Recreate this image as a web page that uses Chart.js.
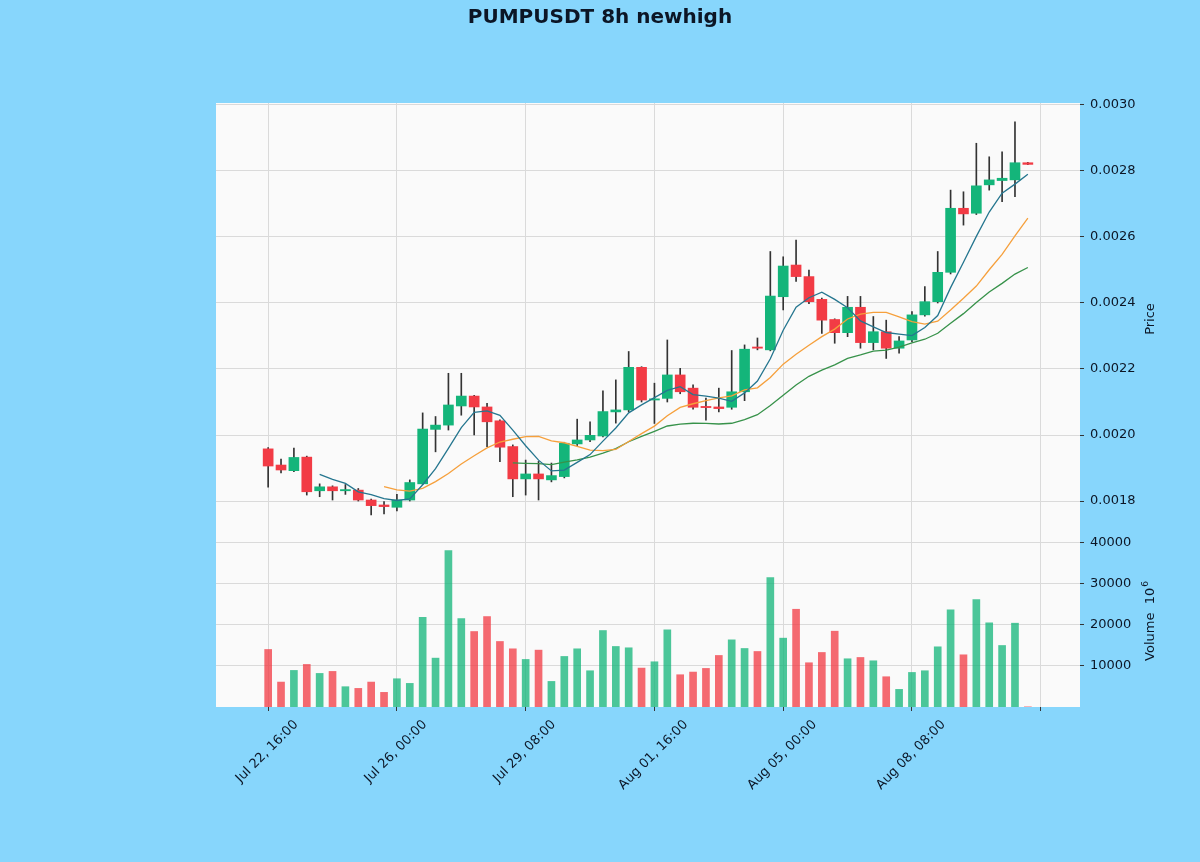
<!DOCTYPE html>
<html>
<head>
<meta charset="utf-8">
<script src="https://cdn.jsdelivr.net/npm/chart.js@4.4.1/dist/chart.umd.min.js"></script>
<style>
html,body{margin:0;padding:0;background:#87d5fb;}
canvas{display:block;}
</style>
</head>
<body>
<canvas id="c" width="1200" height="862"></canvas>
<script>
const chartTitle = 'PUMPUSDT 8h newhigh';
const xTickIdx = [0, 10, 20, 30, 40, 50, 60];
const xTickLabels = ['Jul 22, 16:00', 'Jul 26, 00:00', 'Jul 29, 08:00', 'Aug 01, 16:00', 'Aug 05, 00:00', 'Aug 08, 08:00', ''];
const priceTicks = [0.0018, 0.0020, 0.0022, 0.0024, 0.0026, 0.0028, 0.0030];
const volumeTicks = [10000, 20000, 30000, 40000];

const opens = [0.001958,0.001909,0.001892,0.001933,0.001831,0.001843,0.001831,0.001833,0.001803,0.001788,
  0.001781,0.001803,0.001852,0.002017,0.002030,0.002088,0.002118,0.002085,0.002043,0.001965,
  0.001867,0.001882,0.001864,0.001874,0.001973,0.001985,0.001997,0.002070,0.002076,0.002205,
  0.002106,0.002111,0.002182,0.002142,0.002086,0.002085,0.002084,0.002131,0.002265,0.002258,
  0.002419,0.002515,0.002480,0.002411,0.002350,0.002310,0.002387,0.002280,0.002313,0.002263,
  0.002288,0.002364,0.002404,0.002493,0.002687,0.002672,0.002758,0.002771,0.002773,0.002825];
const highs = [0.001962,0.001927,0.001960,0.001936,0.001852,0.001846,0.001850,0.001838,0.001806,0.001798,
  0.001820,0.001864,0.002067,0.002056,0.002187,0.002187,0.002120,0.002096,0.002046,0.001970,
  0.001924,0.001920,0.001915,0.001978,0.002048,0.002040,0.002134,0.002167,0.002253,0.002207,
  0.002157,0.002288,0.002202,0.002152,0.002112,0.002142,0.002256,0.002273,0.002294,0.002556,
  0.002540,0.002591,0.002500,0.002415,0.002352,0.002420,0.002420,0.002359,0.002348,0.002298,
  0.002374,0.002450,0.002556,0.002742,0.002737,0.002884,0.002843,0.002858,0.002949,0.002826];
const lows = [0.001842,0.001885,0.001889,0.001818,0.001813,0.001803,0.001820,0.001800,0.001758,0.001761,
  0.001770,0.001800,0.001850,0.001949,0.002015,0.002060,0.002000,0.001965,0.001919,0.001813,
  0.001818,0.001803,0.001858,0.001870,0.001968,0.001980,0.001994,0.002036,0.002070,0.002100,
  0.002035,0.002100,0.002125,0.002078,0.002045,0.002070,0.002078,0.002104,0.002258,0.002255,
  0.002379,0.002465,0.002398,0.002308,0.002278,0.002298,0.002263,0.002258,0.002232,0.002248,
  0.002283,0.002360,0.002400,0.002488,0.002636,0.002668,0.002742,0.002707,0.002722,0.002819];
const closes = [0.001906,0.001894,0.001932,0.001828,0.001843,0.001831,0.001833,0.001803,0.001786,0.001783,
  0.001803,0.001856,0.002018,0.002030,0.002091,0.002118,0.002085,0.002040,0.001963,0.001867,
  0.001882,0.001867,0.001877,0.001975,0.001985,0.001999,0.002071,0.002076,0.002205,0.002106,
  0.002108,0.002182,0.002131,0.002084,0.002083,0.002080,0.002131,0.002260,0.002263,0.002421,
  0.002512,0.002480,0.002404,0.002348,0.002310,0.002387,0.002280,0.002313,0.002263,0.002285,
  0.002364,0.002404,0.002493,0.002687,0.002670,0.002755,0.002773,0.002778,0.002825,0.002820];
const volumes = [14030,6080,8920,10380,8190,8680,4950,4540,6080,3570,
  6890,5760,21900,11920,38120,21570,18410,22060,15980,14190,
  11600,13870,6240,12330,14190,8840,18650,14760,14440,9490,
  11030,18820,7870,8520,9410,12570,16380,14270,13540,31550,
  16790,23840,10790,13300,18490,11760,12080,11270,7380,4300,
  8430,8840,14680,23680,12730,26200,20520,15000,20440,40];

// moving-average lines as they appear in the picture (first point index given)
const ma5Start = 4;
const ma5 = [0.0018806,0.0018656,0.0018534,0.0018276,0.0018192,0.0018072,0.0018016,0.0018062,0.0018492,0.0018980,
  0.0019596,0.0020226,0.0020684,0.0020728,0.0020594,0.0020146,0.0019674,0.0019238,0.0018912,0.0018936,
  0.0019172,0.0019406,0.0019814,0.0020212,0.0020672,0.0020914,0.0021132,0.0021354,0.0021464,0.0021222,
  0.0021176,0.0021120,0.0021018,0.0021276,0.0021634,0.0022310,0.0023174,0.0023872,0.0024160,0.0024330,
  0.0024108,0.0023858,0.0023458,0.0023276,0.0023106,0.0023056,0.0023010,0.0023258,0.0023618,0.0024466,
  0.0025236,0.0026018,0.0026756,0.0027326,0.0027602,0.0027902];
const ma10Start = 9;
const ma10 = [0.0018439,0.0018336,0.0018298,0.0018384,0.0018586,0.0018834,0.0019121,0.0019373,0.0019610,0.0019787,
  0.0019871,0.0019950,0.0019961,0.0019820,0.0019765,0.0019659,0.0019540,0.0019526,0.0019562,0.0019804,
  0.0020043,0.0020269,0.0020584,0.0020838,0.0020947,0.0021045,0.0021126,0.0021186,0.0021370,0.0021428,
  0.0021743,0.0022147,0.0022445,0.0022718,0.0022982,0.0023209,0.0023516,0.0023665,0.0023718,0.0023718,
  0.0023582,0.0023434,0.0023358,0.0023447,0.0023786,0.0024146,0.0024514,0.0025007,0.0025472,0.0026034,
  0.0026569];
const ma20Start = 19;
const ma20 = [0.0019155,0.0019143,0.0019130,0.0019102,0.0019176,0.0019247,0.0019331,0.0019450,0.0019586,0.0019796,
  0.0019957,0.0020110,0.0020273,0.0020329,0.0020356,0.0020352,0.0020333,0.0020356,0.0020466,0.0020616,
  0.0020893,0.0021208,0.0021515,0.0021778,0.0021965,0.0022127,0.0022321,0.0022426,0.0022544,0.0022573,
  0.0022663,0.0022791,0.0022902,0.0023083,0.0023384,0.0023678,0.0024015,0.0024336,0.0024595,0.0024876,
  0.0025076];

const FIG_BG = '#87d6fc';
const FACE = '#fafafa';
const GRID = '#dadada';
const TEXT = '#0c1626';
const UP = '#14b57a';
const DOWN = '#f23b45';
const VOL_UP = 'rgba(20,181,122,0.76)';
const VOL_DOWN = 'rgba(242,59,69,0.76)';
const WICK = '#333333';
const FONT = '"DejaVu Sans", "Liberation Sans", sans-serif';

const idx = closes.map((_, i) => i);
const isUp = idx.map(i => closes[i] >= opens[i]);
const bodyData = idx.map(i => ({x: i, y: [opens[i], closes[i]]}));
const wickData = idx.map(i => ({x: i, y: [lows[i], highs[i]]}));
const volData = idx.map(i => ({x: i, y: volumes[i]}));
const maData = (arr, start) => arr.map((v, k) => ({x: start + k, y: v}));

const deco = {
  id: 'deco',
  beforeDraw(chart) {
    const {ctx, chartArea: a} = chart;
    ctx.save();
    ctx.fillStyle = FIG_BG;
    ctx.fillRect(0, 0, chart.width, chart.height);
    ctx.fillStyle = FACE;
    ctx.fillRect(a.left, a.top, a.right - a.left, a.bottom - a.top);
    ctx.restore();
  },
  afterDraw(chart) {
    const ctx = chart.ctx;
    const xs = chart.scales.x, yp = chart.scales.y, yv = chart.scales.yv;
    ctx.save();
    ctx.fillStyle = TEXT;
    ctx.font = 'bold 20px ' + FONT;
    ctx.textAlign = 'center';
    ctx.textBaseline = 'alphabetic';
    ctx.fillText(chartTitle, 600, 23);

    ctx.font = '13px ' + FONT;
    ctx.textBaseline = 'middle';
    ctx.textAlign = 'center';
    xTickIdx.forEach((v, i) => {
      const lab = xTickLabels[i];
      if (!lab) return;
      const w = ctx.measureText(lab).width;
      const half = (w + 13) * Math.SQRT1_2 / 2;
      const px = xs.getPixelForValue(v);
      ctx.save();
      ctx.translate(px - 1, xs.top + 11 + half);
      ctx.rotate(-Math.PI / 4);
      ctx.fillText(lab, 0, 0);
      ctx.restore();
    });

    const lx = 1151;
    ctx.save();
    ctx.translate(lx, (yp.top + yp.bottom) / 2);
    ctx.rotate(-Math.PI / 2);
    ctx.textAlign = 'center';
    ctx.fillText('Price', 0, 0);
    ctx.restore();

    ctx.save();
    ctx.translate(lx, (yv.top + yv.bottom) / 2);
    ctx.rotate(-Math.PI / 2);
    const main = 'Volume  10', sup = '6';
    ctx.font = '13px ' + FONT;
    const w1 = ctx.measureText(main).width;
    ctx.font = '9px ' + FONT;
    const w2 = ctx.measureText(sup).width;
    const x0 = -(w1 + w2 + 1) / 2;
    ctx.textAlign = 'left';
    ctx.font = '13px ' + FONT;
    ctx.fillText(main, x0, 0);
    ctx.font = '9px ' + FONT;
    ctx.fillText(sup, x0 + w1 + 1, -5);
    ctx.restore();
    ctx.restore();
  }
};

const yCommon = {
  position: 'right',
  stack: 'panels',
  border: {display: false},
  grid: {color: GRID, lineWidth: 1, drawTicks: true, tickLength: 4, tickColor: '#333333'},
  afterFit: s => { s.width = 120; }
};

new Chart(document.getElementById('c'), {
  type: 'bar',
  data: {
    datasets: [
      {type: 'line', label: 'MA5', data: maData(ma5, ma5Start), borderColor: '#25768f', borderWidth: 1.3, pointRadius: 0, tension: 0, fill: false, yAxisID: 'y', order: 0},
      {type: 'line', label: 'MA10', data: maData(ma10, ma10Start), borderColor: '#f6a03c', borderWidth: 1.3, pointRadius: 0, tension: 0, fill: false, yAxisID: 'y', order: 1},
      {type: 'line', label: 'MA20', data: maData(ma20, ma20Start), borderColor: '#37924a', borderWidth: 1.3, pointRadius: 0, tension: 0, fill: false, yAxisID: 'y', order: 2},
      {type: 'bar', label: 'body', data: bodyData, backgroundColor: idx.map(i => isUp[i] ? UP : DOWN), borderWidth: 0, barThickness: 10, minBarLength: 1.2, grouped: false, yAxisID: 'y', order: 3},
      {type: 'bar', label: 'wick', data: wickData, backgroundColor: WICK, borderWidth: 0, barThickness: 1, grouped: false, yAxisID: 'y', order: 4},
      {type: 'bar', label: 'volume', data: volData, backgroundColor: idx.map(i => isUp[i] ? VOL_UP : VOL_DOWN), borderWidth: 0, barThickness: 7, grouped: false, yAxisID: 'yv', order: 5}
    ]
  },
  options: {
    responsive: false,
    animation: false,
    devicePixelRatio: 1,
    layout: {padding: {left: 216, top: 103, right: 0, bottom: 0}},
    plugins: {legend: {display: false}, tooltip: {enabled: false}, title: {display: false}},
    scales: {
      x: {
        type: 'linear', position: 'bottom', min: -4.05, max: 63.05,
        offset: false,
        border: {display: false},
        grid: {offset: false, color: GRID, lineWidth: 1, drawTicks: true, tickLength: 4, tickColor: '#333333'},
        ticks: {display: false},
        afterBuildTicks: s => { s.ticks = xTickIdx.map(v => ({value: v})); },
        afterFit: s => { s.height = 155; }
      },
      y: Object.assign({}, yCommon, {
        stackWeight: 432, min: 0.001697, max: 0.003006,
        afterBuildTicks: s => { s.ticks = priceTicks.map(v => ({value: v})); },
        ticks: {color: TEXT, font: {family: FONT, size: 13}, padding: 6, autoSkip: false, callback: v => Number(v).toFixed(4)}
      }),
      yv: Object.assign({}, yCommon, {
        stackWeight: 172, min: 0, max: 41950,
        afterBuildTicks: s => { s.ticks = volumeTicks.map(v => ({value: v})); },
        ticks: {color: TEXT, font: {family: FONT, size: 13}, padding: 6, autoSkip: false, callback: v => String(v)}
      })
    }
  },
  plugins: [deco]
});
</script>
</body>
</html>
